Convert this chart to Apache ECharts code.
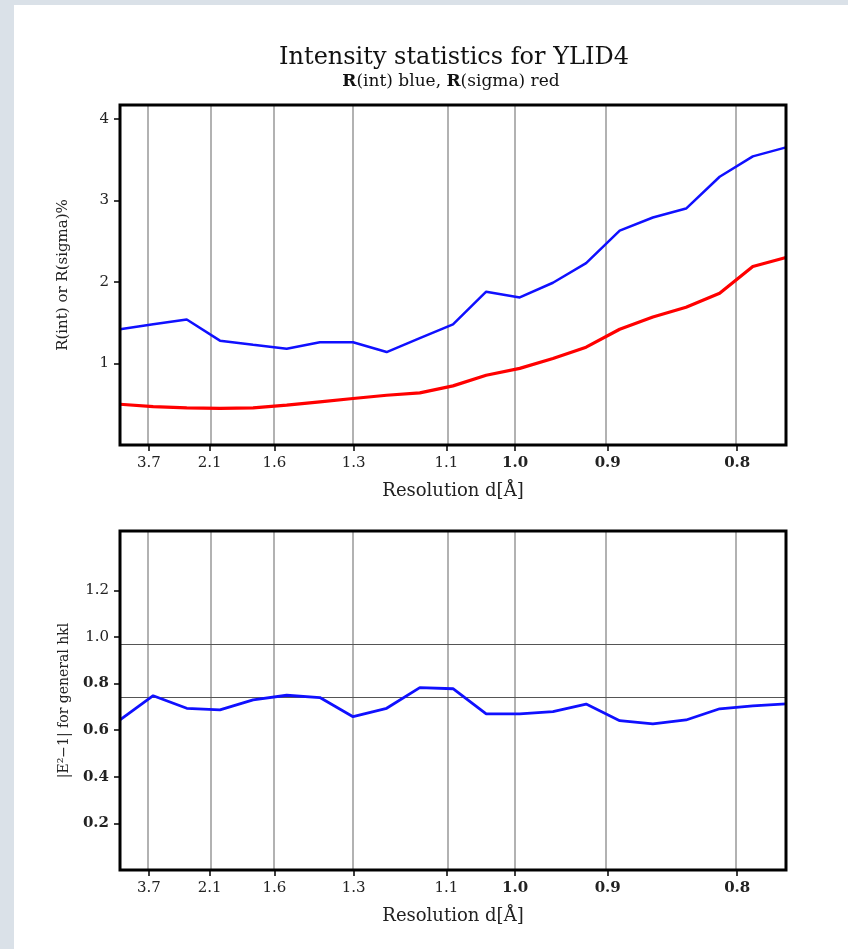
<!DOCTYPE html>
<html>
<head>
<meta charset="utf-8">
<script src="https://cdn.jsdelivr.net/npm/echarts@6/dist/echarts.min.js"></script>
<style>
  html, body { margin: 0; padding: 0; background: #dae1e8; }
  #panel { position: absolute; left: 14px; top: 5px; width: 834px; height: 944px; background: #ffffff; }
  #chart { position: absolute; left: 0; top: 0; width: 848px; height: 949px; }
</style>
</head>
<body>
<div id="panel"></div>
<div id="chart"></div>
<script>
// ---- data ----
// shell positions on the x axis, in 1/d^2 (Å^-2)
const shellS = [0.000, 0.084, 0.169, 0.253, 0.337, 0.422, 0.506, 0.590, 0.675, 0.759, 0.843,
                0.927, 1.012, 1.096, 1.180, 1.265, 1.349, 1.433, 1.518, 1.602, 1.686];
const rInt   = [1.42, 1.48, 1.54, 1.28, 1.23, 1.18, 1.26, 1.26, 1.14, 1.31, 1.48,
                1.88, 1.81, 1.99, 2.23, 2.63, 2.79, 2.90, 3.29, 3.54, 3.65];
const rSigma = [0.50, 0.47, 0.455, 0.45, 0.455, 0.49, 0.53, 0.57, 0.61, 0.64, 0.725,
                0.856, 0.94, 1.06, 1.20, 1.42, 1.57, 1.69, 1.86, 2.19, 2.30];
const e2m1   = [0.644, 0.748, 0.694, 0.687, 0.730, 0.750, 0.740, 0.658, 0.694, 0.783, 0.778,
                0.670, 0.670, 0.680, 0.712, 0.641, 0.627, 0.644, 0.692, 0.704, 0.713];
const e2RefLines = [0.968, 0.736];
const resTickLabels = ['3.7', '2.1', '1.6', '1.3', '1.1', '1.0', '0.9', '0.8'];
const topYTicks = [1, 2, 3, 4];
const botYTicks = [0.2, 0.4, 0.6, 0.8, 1.0, 1.2];

// ---- derived ----
const resTickS = resTickLabels.map(d => 1 / (parseFloat(d) * parseFloat(d)));
const xMax = shellS[shellS.length - 1];
const pairs = ys => shellS.map((s, i) => [s, ys[i]]);

// ---- styles ----
const FONT = '"DejaVu Serif", "Liberation Serif", serif';
const boldX = ['1.0', '0.9', '0.8'];
const boldY = ['0.8', '0.6', '0.4', '0.2'];
const rich = { b: { fontWeight: 'bold', fontFamily: FONT, fontSize: 15, color: '#222' } };

const chart = echarts.init(document.getElementById('chart'), null, { renderer: 'canvas' });

function xAxisCfg(gridIndex) {
  return {
    type: 'value', gridIndex, min: 0, max: xMax,
    name: 'Resolution d[Å]', nameLocation: 'middle', nameGap: 37,
    nameTextStyle: { fontFamily: FONT, fontSize: 18, color: '#222' },
    axisLine: { show: false },
    axisTick: { show: true, inside: false, length: 6, customValues: resTickS, lineStyle: { color: '#000', width: 1.5 } },
    axisLabel: {
      customValues: resTickS, margin: 11, fontFamily: FONT, fontSize: 15, color: '#222', rich,
      formatter: v => {
        let i = 0, best = Infinity;
        resTickS.forEach((s, k) => { const d = Math.abs(s - v); if (d < best) { best = d; i = k; } });
        const t = resTickLabels[i];
        return boldX.includes(t) ? '{b|' + t + '}' : t;
      }
    },
    splitLine: { show: false }
  };
}

function yAxisCfg(gridIndex, max, ticks, name, nameSize, fmt) {
  return {
    type: 'value', gridIndex, min: 0, max,
    name, nameLocation: 'middle', nameGap: 49, nameRotate: 90,
    nameTextStyle: { fontFamily: FONT, fontSize: nameSize, color: '#222' },
    axisLine: { show: false },
    axisTick: { show: true, inside: false, length: 6, customValues: ticks, lineStyle: { color: '#000', width: 1.5 } },
    axisLabel: { customValues: ticks, margin: 11, fontFamily: FONT, fontSize: 15, color: '#222', rich, formatter: fmt },
    splitLine: { show: false }
  };
}

const vGrid = {
  silent: true, symbol: 'none', animation: false,
  label: { show: false },
  lineStyle: { color: '#999', width: 1.5, type: 'solid' },
  data: resTickS.map(s => ({ xAxis: s }))
};

const option = {
  animation: false,
  backgroundColor: 'transparent',
  graphic: [
    { type: 'text', x: 454, y: 58, style: { text: 'Intensity statistics for YLID4', fontFamily: FONT, fontSize: 24, fill: '#111', align: 'center', verticalAlign: 'middle' } },
    { type: 'text', x: 451, y: 82, style: { text: '{b|R}(int) blue, {b|R}(sigma) red', fontFamily: FONT, fontSize: 17, fill: '#111', align: 'center', verticalAlign: 'middle',
      rich: { b: { fontWeight: 'bold', fontFamily: FONT, fontSize: 17, fill: '#111' } } } }
  ],
  grid: [
    { left: 120, top: 105, width: 666, height: 340, show: true, borderColor: '#000', borderWidth: 3, backgroundColor: 'transparent', z: 10 },
    { left: 120, top: 531, width: 666, height: 339, show: true, borderColor: '#000', borderWidth: 3, backgroundColor: 'transparent', z: 10 }
  ],
  xAxis: [xAxisCfg(0), xAxisCfg(1)],
  yAxis: [
    yAxisCfg(0, 4.17, topYTicks, 'R(int) or R(sigma)%', 15, v => String(Math.round(v))),
    yAxisCfg(1, 1.455, botYTicks, '|E²−1| for general hkl', 14, v => { const t = v.toFixed(1); return boldY.includes(t) ? '{b|' + t + '}' : t; })
  ],
  series: [
    { type: 'line', xAxisIndex: 0, yAxisIndex: 0, data: [], z: 1, markLine: vGrid },
    { type: 'line', xAxisIndex: 1, yAxisIndex: 1, data: [], z: 1,
      markLine: Object.assign({}, vGrid, {
        data: resTickS.map(s => ({ xAxis: s })).concat(e2RefLines.map(v => ({ yAxis: v, lineStyle: { color: '#555', width: 1 } })))
      }) },
    { name: 'R(int)', type: 'line', xAxisIndex: 0, yAxisIndex: 0, data: pairs(rInt), showSymbol: false, z: 5,
      lineStyle: { color: '#1010ff', width: 2.5 } },
    { name: 'R(sigma)', type: 'line', xAxisIndex: 0, yAxisIndex: 0, data: pairs(rSigma), showSymbol: false, z: 5,
      lineStyle: { color: '#ff0000', width: 3.2 } },
    { name: '|E2-1|', type: 'line', xAxisIndex: 1, yAxisIndex: 1, data: pairs(e2m1), showSymbol: false, z: 5,
      lineStyle: { color: '#1010ff', width: 2.8 } }
  ]
};
chart.setOption(option);
</script>
</body>
</html>
